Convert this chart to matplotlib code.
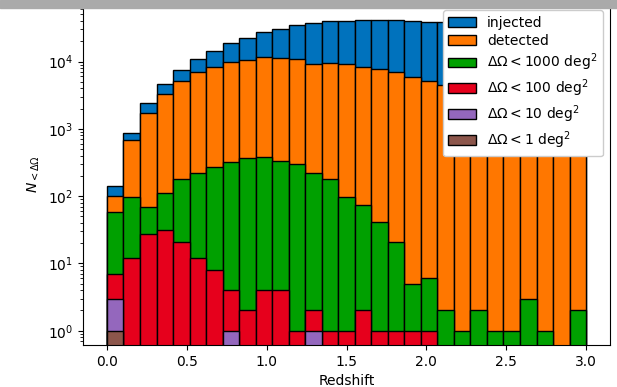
import numpy as np
import matplotlib
matplotlib.use('Agg')
import matplotlib.pyplot as plt
from matplotlib.patches import Rectangle

# 29 redshift bins between 0 and 3
edges = np.linspace(0, 3, 30)

injected = [140, 870, 2400, 4600, 7500, 10900, 14500, 19000, 22400, 27500,
            30500, 35000, 37000, 40000, 40500, 41500, 41500, 41500, 40500, 39000,
            38000, 36000, 34000, 31000, 28000, 25000, 22000, 19000, 16000]
detected = [100, 680, 1700, 3250, 5100, 7000, 8300, 9800, 10500, 11700,
            11200, 11000, 9300, 9500, 9200, 8300, 7700, 7000, 5900, 5100,
            4500, 3900, 3400, 2900, 2500, 2100, 1800, 1500, 1300]
lt1000 = [58, 96, 69, 113, 180, 220, 275, 320, 365, 380,
          330, 300, 220, 180, 97, 74, 41, 21, 5, 6,
          2, 1, 2, 1, 1, 3, 1, 0, 2]
lt100 = [7, 12, 27, 31, 21, 12, 8, 4, 2, 4,
         4, 1, 2, 1, 1, 2, 1, 1, 1, 1,
         0, 0, 0, 0, 0, 0, 0, 0, 0]
lt10 = [3, 0, 0, 0, 0, 0, 0, 1, 0, 0,
        0, 0, 1, 0, 0, 0, 0, 0, 0, 0,
        0, 0, 0, 0, 0, 0, 0, 0, 0]
lt1 = [1, 0, 0, 0, 0, 0, 0, 0, 0, 0,
       0, 0, 0, 0, 0, 0, 0, 0, 0, 0,
       0, 0, 0, 0, 0, 0, 0, 0, 0]

series = [
    (injected, '#0072bd', 'injected'),
    (detected, '#ff7700', 'detected'),
    (lt1000, '#00a000', r'$\Delta\Omega < 1000$ deg$^2$'),
    (lt100, '#e6001c', r'$\Delta\Omega < 100$ deg$^2$'),
    (lt10, '#9467bd', r'$\Delta\Omega < 10$ deg$^2$'),
    (lt1, '#8c564b', r'$\Delta\Omega < 1$ deg$^2$'),
]

fig = plt.figure(figsize=(6.17, 3.87), dpi=100)
ax = fig.add_axes([0.1345, 0.1085, 0.8542, 0.8837])

width = np.diff(edges)
for vals, color, label in series:
    vals = np.array(vals, dtype=float)
    keep = vals > 0
    ax.bar(edges[:-1][keep], vals[keep], width=width[keep], align='edge',
           color=color, edgecolor='k', linewidth=1.0, label=label, bottom=1e-3)

ax.set_yscale('log')
ax.set_ylim(0.613, 74000)
ax.set_xlim(-0.15, 3.15)
ax.set_xlabel('Redshift', fontsize=10)
ax.set_ylabel(r'$N_{<\Delta\Omega}$', fontsize=10)
ax.tick_params(labelsize=10)
ax.legend(loc='upper right', framealpha=1, fontsize=10, labelspacing=0.3)

# grey strip at the top of the screenshot
fig.patches.append(Rectangle((0, 379 / 387), 1, 8 / 387, transform=fig.transFigure,
                             color='#aaaaaa', zorder=10))

fig.savefig('out.png', dpi=100)
